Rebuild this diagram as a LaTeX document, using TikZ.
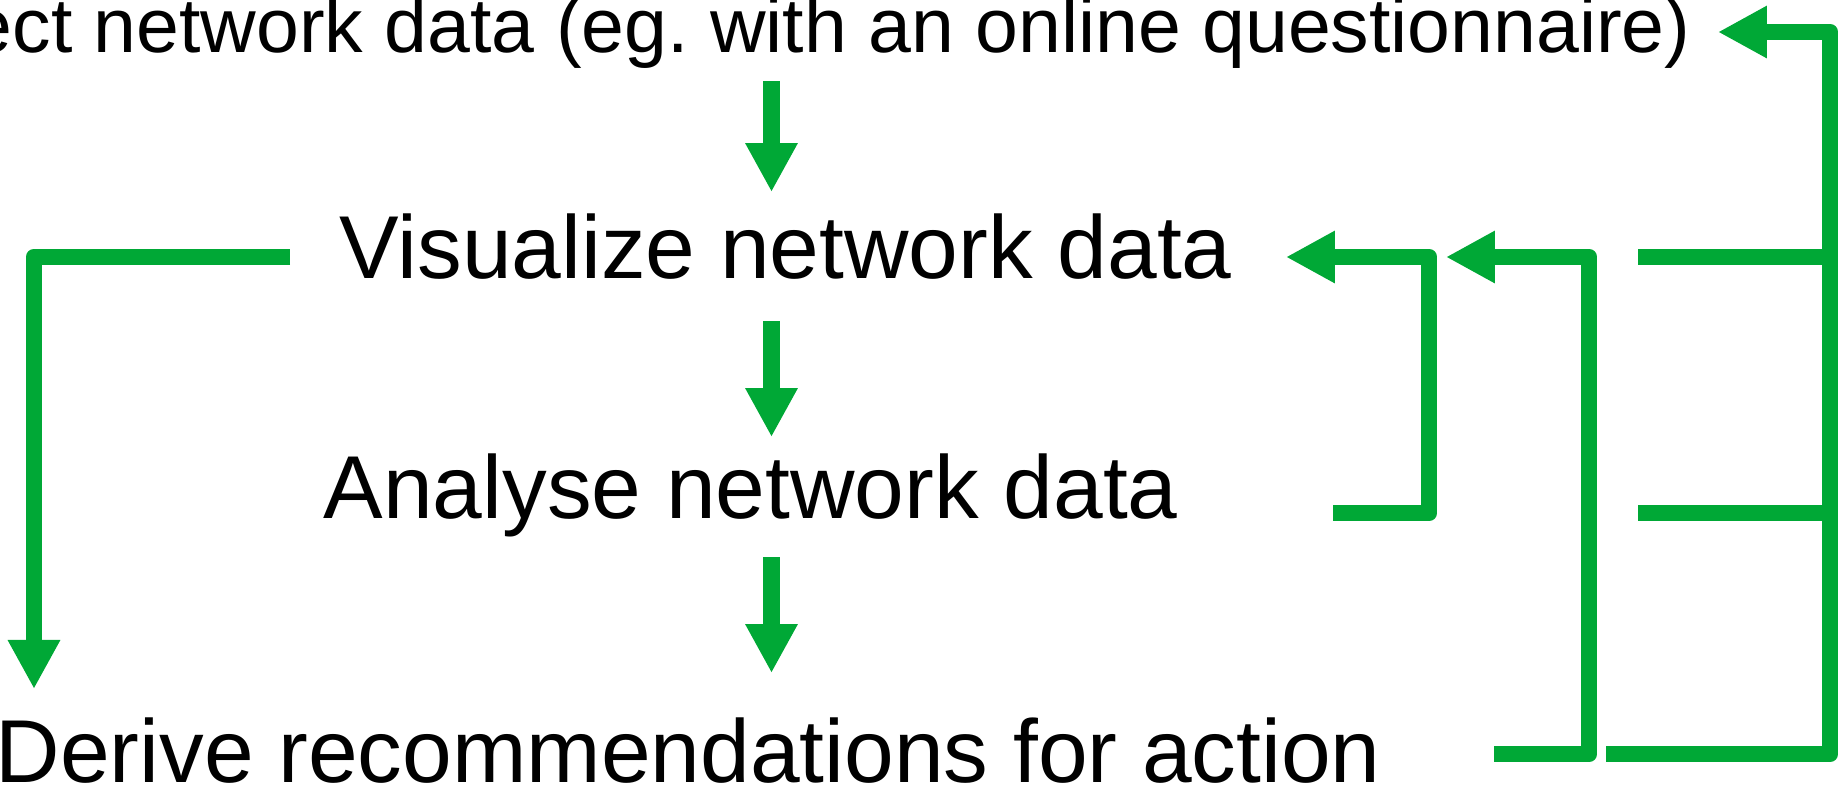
\documentclass[tikz,border=0pt]{standalone}
\usepackage{fontspec}
\setmainfont{Liberation Sans}
\usepackage{tikz}
\usetikzlibrary{positioning}
\usetikzlibrary{arrows.meta}
\frenchspacing
\definecolor{flowgreen}{RGB}{0,168,54}
\tikzset{stage/.style={inner sep=0pt, anchor=base west, font=\fontsize{25.4}{30}\selectfont}}
\tikzset{link/.style={draw=flowgreen, line width=4.7pt, line join=round}}
\tikzset{flow/.style={link, -{Triangle[length=0.49cm, width=0.49cm]}}}

\begin{document}
\begin{tikzpicture}[x=0.01cm, y=-0.01cm, node distance=1.16cm]
\useasboundingbox (0,0) rectangle (1845,787);

\node[stage, font=\fontsize{21.9}{26}\selectfont] (collect) at (-31,52) {ect network data (eg. with an online questionnaire)};
\node[stage] (visualize) at (339,278) {Visualize network data};
\node[stage] (analyse) at (323,518) {Analyse network data};
\node[stage] (derive) at (-5,782) {Derive recommendations for action};

\coordinate (c1) at (771.5,81);
\coordinate[below=1.11cm of c1] (v1);
\coordinate (v2) at (771.5,321);
\coordinate[below=of v2] (a1);
\coordinate (a2) at (771.5,557);
\coordinate[below=of a2] (d1);

\coordinate (vl) at (290,257);
\coordinate (dl) at (34,689);

\coordinate (ar) at (1333,513);
\coordinate (ak) at (1429,257);
\coordinate[left=1.43cm of ak] (vr1);
\coordinate (dr) at (1494,754);
\coordinate (dk) at (1589,257);
\coordinate[left=1.43cm of dk] (vr2);

\coordinate (bus) at (1830,32);
\coordinate[left=1.12cm of bus] (cr);
\coordinate (dr2) at (1606,754);
\coordinate (vs) at (1638,257);
\coordinate (as) at (1638,513);

\draw[flow] (c1) -- (v1);
\draw[flow] (v2) -- (a1);
\draw[flow] (a2) -- (d1);

\draw[flow] (vl) -| (dl);
\draw[flow] (ar) -| (ak) -- (vr1);
\draw[flow] (dr) -| (dk) -- (vr2);
\draw[flow] (dr2) -| (bus) -- (cr);
\draw[link] (vs) -- (vs -| bus);
\draw[link] (as) -- (as -| bus);
\end{tikzpicture}
\end{document}
